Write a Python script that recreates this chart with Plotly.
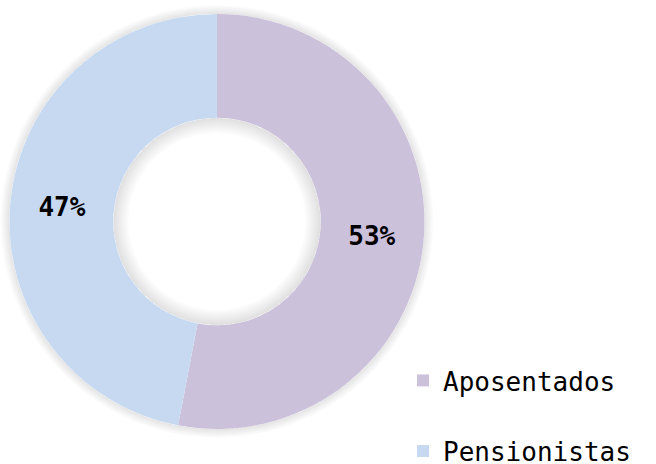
import plotly.graph_objects as go

# data
labels = ["Aposentados", "Pensionistas"]
values = [53, 47]
colors = ["#CCC1DA", "#C6D9F1"]

W, H = 656, 464
cx, cy, r = 217, 221.5, 207.5
hole = 0.5
r_in = r * hole


def domain(rad):
    return dict(x=[(cx - rad) / W, (cx + rad) / W],
                y=[1 - (cy + rad) / H, 1 - (cy - rad) / H])


fig = go.Figure()

# soft shadow outside the ring
for k in range(1, 10):
    rad = r + k
    fig.add_trace(go.Pie(
        labels=["s%d" % k], values=[1], hole=r / rad, sort=False,
        marker=dict(colors=["rgba(0,0,0,0.011)"], line=dict(width=0)),
        textinfo="none", hoverinfo="skip", showlegend=False,
        domain=domain(rad),
    ))

# soft shadow inside the hole
for k in range(1, 17):
    fig.add_trace(go.Pie(
        labels=["h%d" % k], values=[1], hole=(r_in - k) / r_in, sort=False,
        marker=dict(colors=["rgba(0,0,0,0.0065)"], line=dict(width=0)),
        textinfo="none", hoverinfo="skip", showlegend=False,
        domain=domain(r_in),
    ))

# legend labels: extra line on the second one to space the entries like the original
legend_labels = [labels[0], "<br>" + labels[1]]

fig.add_trace(go.Pie(
    labels=legend_labels,
    values=values,
    customdata=labels,
    hole=hole,
    sort=False,
    direction="clockwise",
    rotation=0,
    marker=dict(colors=colors, line=dict(width=0)),
    texttemplate="%{percent:.0%}",
    textposition="inside",
    insidetextorientation="horizontal",
    textfont=dict(family="DejaVu Sans Mono", size=26, color="#000000", weight="bold"),
    hovertemplate="%{customdata}: %{percent:.0%}<extra></extra>",
    domain=domain(r),
))

fig.update_layout(
    width=W,
    height=H,
    margin=dict(l=0, r=0, t=0, b=0, autoexpand=False),
    paper_bgcolor="white",
    plot_bgcolor="white",
    showlegend=True,
    legend=dict(
        x=403 / W, xanchor="left",
        y=1 - 357 / H, yanchor="top",
        font=dict(family="DejaVu Sans Mono", size=26, color="#000000"),
        bgcolor="rgba(0,0,0,0)",
        valign="bottom",
        tracegroupgap=0,
    ),
)

fig.write_html("out.html", config={"displayModeBar": False},
               post_script="document.body.style.margin='0';")
